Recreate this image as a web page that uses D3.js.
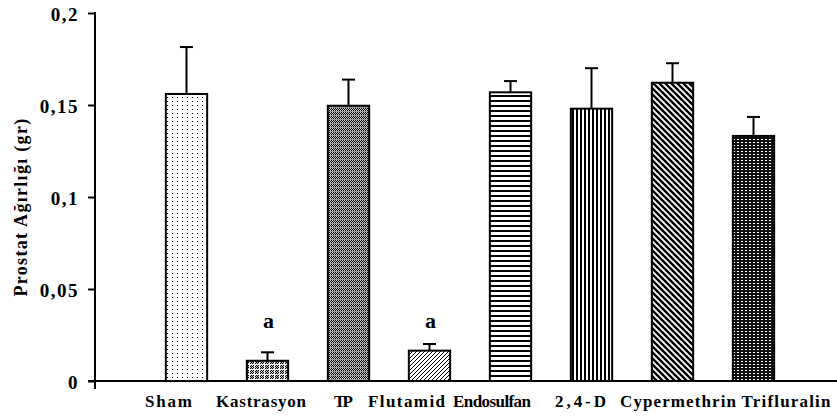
<!DOCTYPE html>
<html>
<head>
<meta charset="utf-8">
<script src="https://cdn.jsdelivr.net/npm/d3@7"></script>
<style>
  body { margin: 0; background: #fff; }
  svg text { font-family: "Liberation Serif", "Times New Roman", serif; font-weight: bold; fill: #000; }
</style>
</head>
<body>
<svg id="chart" width="837" height="416"></svg>
<script>
var groups = ["Sham", "Kastrasyon", "TP", "Flutamid", "Endosulfan", "2,4-D", "Cypermethrin", "Trifluralin"];
var means = [0.156, 0.011, 0.1496, 0.0165, 0.1569, 0.148, 0.1621, 0.1332];
var sems = [0.0255, 0.0046, 0.0142, 0.0036, 0.0061, 0.022, 0.0106, 0.0103];
var marks = ["", "a", "", "a", "", "", "", ""];
var yTicks = [0, 0.05, 0.1, 0.15, 0.2];

// layout
var axisX = 95, plotTop = 13, plotBottom = 381;
var labelNudge = [-18, -6.5, -5, -23, -18.5, -11, 5.5, 32.5];
var labelWidth = [47, 90, 19, 77, 78, 51, 116, 89];

var svg = d3.select("#chart");
var defs = svg.append("defs");

function pattern(id, w, h, bg, draw) {
	var p = defs.append("pattern")
		.attr("id", id)
		.attr("patternUnits", "userSpaceOnUse")
		.attr("width", w).attr("height", h)
		.attr("shape-rendering", "crispEdges");
	p.append("rect").attr("width", w).attr("height", h).attr("fill", bg);
	draw(p);
}
function px(p, x, y, w, h, c) {
	p.append("rect").attr("x", x).attr("y", y).attr("width", w).attr("height", h).attr("fill", c);
}

// Sham: sparse dots
pattern("p0", 5, 4, "#fff", function(p) { px(p, 2, 1, 1, 1, "#000"); });
// Kastrasyon: checker blocks with white grid
pattern("p1", 5, 5, "#fff", function(p) {
	for (var i = 0; i < 4; i++) for (var j = 0; j < 4; j++)
		px(p, i, j, 1, 1, (i + j) % 2 ? "#000" : "#bbb");
});
// TP: fine dither
pattern("p2", 4, 4, "#ccc", function(p) {
	for (var i = 0; i < 4; i++) for (var j = 0; j < 3; j++)
		if ((i + j) % 2) px(p, i, j, 1, 1, "#000");
	px(p, 0, 3, 4, 1, "#999");
});
// Flutamid: thin forward diagonal
pattern("p3", 4, 4, "#fff", function(p) {
	p.append("path").attr("d", "M0,4 L4,0 M-1,1 L1,-1 M3,5 L5,3")
		.attr("stroke", "#000").attr("stroke-width", 1).attr("shape-rendering", "auto");
});
// Endosulfan: horizontal lines
pattern("p4", 5, 5, "#fff", function(p) { px(p, 0, 0, 5, 2, "#000"); });
// 2,4-D: vertical lines
pattern("p5", 4, 4, "#fff", function(p) { px(p, 0, 0, 2, 4, "#000"); });
// Cypermethrin: wide back diagonal
pattern("p6", 6, 6, "#fff", function(p) {
	p.append("path").attr("d", "M0,0 L6,6 M-3,3 L3,9 M3,-3 L9,3")
		.attr("stroke", "#000").attr("stroke-width", 2.4).attr("shape-rendering", "auto");
});
// Trifluralin: dark with white dots
pattern("p7", 4, 3, "#111", function(p) { px(p, 1, 1, 2, 1, "#fff"); });

var x = d3.scaleBand()
	.domain(groups)
	.range([146, 794])
	.paddingInner(0.49)
	.paddingOuter(0.245);

var y = d3.scaleLinear()
	.domain([0, 0.2])
	.range([plotBottom, plotTop]);

// y axis
var yAxis = svg.append("g")
	.attr("transform", "translate(" + axisX + ",0)")
	.call(d3.axisLeft(y)
		.tickValues(yTicks)
		.tickSize(7)
		.tickSizeOuter(0)
		.tickPadding(9)
		.tickFormat(function(d) { return String(d).replace(".", ","); }));
yAxis.select(".domain").remove();
yAxis.selectAll("line").attr("stroke", "#000").attr("stroke-width", 2);
yAxis.selectAll("text")
	.attr("font-size", 19)
	.attr("font-family", "Liberation Serif")
	.attr("font-weight", "bold")
	.attr("letter-spacing", 1.5)
	.attr("dy", "0.4em");
svg.append("line")
	.attr("x1", axisX).attr("x2", axisX)
	.attr("y1", plotTop - 1).attr("y2", plotBottom + 8)
	.attr("stroke", "#000").attr("stroke-width", 2);

// bars
var bars = svg.append("g");
bars.selectAll("rect")
	.data(groups)
	.enter().append("rect")
		.attr("x", function(d) { return x(d); })
		.attr("y", function(d, i) { return y(means[i]); })
		.attr("width", x.bandwidth())
		.attr("height", function(d, i) { return y(0) - y(means[i]); })
		.attr("fill", function(d, i) { return "url(#p" + i + ")"; })
		.attr("stroke", "#000")
		.attr("stroke-width", 2);

// error bars
var err = svg.append("g").attr("stroke", "#000").attr("stroke-width", 2);
groups.forEach(function(d, i) {
	var cx = x(d) + x.bandwidth() / 2;
	err.append("line")
		.attr("x1", cx).attr("x2", cx)
		.attr("y1", y(means[i])).attr("y2", y(means[i] + sems[i]));
	err.append("line")
		.attr("x1", cx - 6.5).attr("x2", cx + 6.5)
		.attr("y1", y(means[i] + sems[i])).attr("y2", y(means[i] + sems[i]));
});

// x axis line
svg.append("line")
	.attr("x1", axisX - 7).attr("x2", 837)
	.attr("y1", plotBottom).attr("y2", plotBottom)
	.attr("stroke", "#000").attr("stroke-width", 2);

// significance letters
svg.append("g").selectAll("text")
	.data(groups)
	.enter().append("text")
		.attr("x", function(d) { return x(d) + x.bandwidth() / 2 + 1; })
		.attr("y", y(0.029))
		.attr("text-anchor", "middle")
		.attr("font-size", 22)
		.text(function(d, i) { return marks[i]; });

// category labels
svg.append("g").selectAll("text")
	.data(groups)
	.enter().append("text")
		.attr("x", function(d, i) { return x(d) + x.bandwidth() / 2 + labelNudge[i] - labelWidth[i] / 2; })
		.attr("y", 407)
		.attr("font-size", 17)
		.attr("textLength", function(d, i) { return labelWidth[i]; })
		.attr("lengthAdjust", "spacing")
		.text(function(d) { return d; });

// y title
svg.append("text")
	.attr("transform", "translate(27,207) rotate(-90)")
	.attr("text-anchor", "middle")
	.attr("font-size", 18)
	.attr("letter-spacing", 1.3)
	.text("Prostat Ağırlığı (gr)");
</script>
</body>
</html>
